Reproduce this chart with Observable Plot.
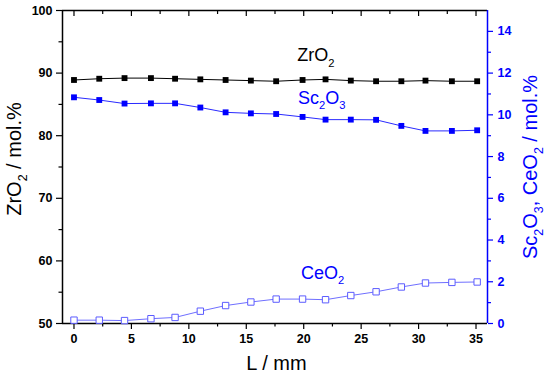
<!DOCTYPE html>
<html>
<head>
<meta charset="utf-8">
<script src="https://cdn.jsdelivr.net/npm/d3@7"></script>
<script src="https://cdn.jsdelivr.net/npm/@observablehq/plot@0.6"></script>
<style>
  html, body { margin: 0; padding: 0; background: white; }
  svg { display: block; }
</style>
</head>
<body>
<div id="chart"></div>
<script>
// ---- data ----
const L      = [0, 2.2, 4.4, 6.7, 8.8, 11.0, 13.2, 15.4, 17.6, 19.9, 21.9, 24.1, 26.3, 28.5, 30.6, 32.9, 35.1];
const zrO2   = [88.9, 89.1, 89.2, 89.2, 89.1, 89.0, 88.9, 88.8, 88.7, 88.9, 89.0, 88.8, 88.7, 88.7, 88.8, 88.7, 88.7];
const sc2O3  = [10.84, 10.71, 10.54, 10.55, 10.55, 10.35, 10.12, 10.07, 10.04, 9.90, 9.77, 9.77, 9.76, 9.47, 9.23, 9.23, 9.26];
const ceO2   = [0.16, 0.16, 0.14, 0.23, 0.29, 0.59, 0.86, 1.03, 1.17, 1.17, 1.14, 1.34, 1.52, 1.75, 1.94, 1.97, 1.99];

const xDomain = [-1, 36];
const yLeftDomain = [50, 100];
const yRightDomain = [0, 15];
const xTicks = [0, 5, 10, 15, 20, 25, 30, 35];
const xMinor = [2.5, 7.5, 12.5, 17.5, 22.5, 27.5, 32.5];
const yLeftTicks = [50, 60, 70, 80, 90, 100];
const yLeftMinor = [55, 65, 75, 85, 95];
const yRightTicks = [0, 2, 4, 6, 8, 10, 12, 14];
const yRightMinor = [1, 3, 5, 7, 9, 11, 13];

const xTitle = "L / mm";
const yLeftTitle = "ZrO_2 / mol.%";
const yRightTitle = "Sc_2O_3, CeO_2 / mol.%";

const seriesLabels = ["ZrO_2", "Sc_2O_3", "CeO_2"];
const seriesLabelX = [19.43, 19.5, 19.77];
const seriesLabelY = [91.9, 10.54, 2.13];       // ZrO2 on left axis, others on right axis
const seriesLabelAxis = ["left", "right", "right"];
const seriesColor = ["#000000", "#0000ff", "#0000ff"];

// right axis -> left axis units
const toLeft = r => yLeftDomain[0] + (r - yRightDomain[0]) * (yLeftDomain[1] - yLeftDomain[0]) / (yRightDomain[1] - yRightDomain[0]);
const fromLeft = v => yRightDomain[0] + (v - yLeftDomain[0]) * (yRightDomain[1] - yRightDomain[0]) / (yLeftDomain[1] - yLeftDomain[0]);

const rows = L.map((x, i) => ({x, zr: zrO2[i], sc: toLeft(sc2O3[i]), ce: toLeft(ceO2[i])}));
const labels = seriesLabels.map((t, i) => ({
  text: t, x: seriesLabelX[i],
  y: seriesLabelAxis[i] === "left" ? seriesLabelY[i] : toLeft(seriesLabelY[i]),
  color: seriesColor[i]
}));

const W = 550, H = 377, mL = 62, mR = 63, mT = 10, mB = 54;
const frameH = H - mT - mB;
const font = "'Liberation Sans', Arial, Helvetica, sans-serif";
const tickFs = 12.5;

const chart = Plot.plot({
  width: W, height: H,
  marginLeft: mL, marginRight: mR, marginTop: mT, marginBottom: mB,
  x: {domain: xDomain},
  y: {domain: yLeftDomain},
  style: {fontFamily: font, background: "white", color: "black"},
  marks: [
    // bottom axis
    Plot.axisX(xTicks, {anchor: "bottom", tickSize: 6, tickPadding: 5, fontWeight: "bold", fontSize: tickFs, label: null, strokeWidth: 1.2}),
    Plot.axisX(xMinor, {anchor: "bottom", tickSize: 3.5, tickFormat: () => "", label: null, strokeWidth: 1.2}),
    // top inward ticks
    Plot.ruleX(xTicks, {x: d => d, stroke: "black", strokeWidth: 1.2, insetBottom: frameH - 6}),
    Plot.ruleX(xMinor, {x: d => d, stroke: "black", strokeWidth: 1.2, insetBottom: frameH - 4}),
    // left axis
    Plot.axisY(yLeftTicks, {anchor: "left", tickSize: 6, tickPadding: 4, fontWeight: "bold", fontSize: tickFs, label: null, strokeWidth: 1.2}),
    Plot.axisY(yLeftMinor, {anchor: "left", tickSize: 3.5, tickFormat: () => "", label: null, strokeWidth: 1.2}),
    // right axis (blue)
    Plot.axisY(yRightTicks.map(toLeft), {anchor: "right", tickSize: 5, tickPadding: 5, color: "#0000ff", fontWeight: "bold", fontSize: tickFs, label: null, strokeWidth: 1.2, tickFormat: v => String(Math.round(fromLeft(v)))}),
    Plot.axisY(yRightMinor.map(toLeft), {anchor: "right", tickSize: 3, color: "#0000ff", tickFormat: () => "", label: null, strokeWidth: 1.2}),
    // frame
    Plot.ruleY([yLeftDomain[1]], {stroke: "black", strokeWidth: 1.5}),
    Plot.ruleY([yLeftDomain[0]], {stroke: "black", strokeWidth: 1.5}),
    Plot.ruleX([xDomain[0]], {stroke: "black", strokeWidth: 1.5}),
    Plot.ruleX([xDomain[1]], {stroke: "#0000ff", strokeWidth: 1.5}),
    // series
    Plot.line(rows, {x: "x", y: "zr", stroke: "#000000", strokeWidth: 1}),
    Plot.dot(rows, {x: "x", y: "zr", symbol: "square", fill: "#000000", r: 3.3}),
    Plot.line(rows, {x: "x", y: "sc", stroke: "#2a2aff", strokeWidth: 1}),
    Plot.dot(rows, {x: "x", y: "sc", symbol: "square", fill: "#0000ff", r: 3.3}),
    Plot.line(rows, {x: "x", y: "ce", stroke: "#6f6fff", strokeWidth: 1}),
    Plot.dot(rows, {x: "x", y: "ce", symbol: "square", fill: "white", stroke: "#5c5cff", strokeWidth: 1, r: 3.6}),
    // series labels
    Plot.text(labels, {x: "x", y: "y", text: "text", fill: "color", textAnchor: "start", lineAnchor: "bottom", fontSize: 18}),
    // axis titles
    Plot.text([xTitle], {text: d => d, frameAnchor: "bottom", textAnchor: "middle", dx: 1.5, dy: 46, lineAnchor: "bottom", fontSize: 20, fill: "black"}),
    Plot.text([yLeftTitle], {text: d => d, frameAnchor: "left", textAnchor: "middle", rotate: -90, dx: -42, dy: -8, lineAnchor: "bottom", fontSize: 20, fill: "black"}),
    Plot.text([yRightTitle], {text: d => d, frameAnchor: "right", textAnchor: "middle", rotate: -90, dx: 49, lineAnchor: "bottom", fontSize: 20, fill: "#0000ff"})
  ]
});

// subscripts: "_d" -> lowered, smaller digit
const ns = "http://www.w3.org/2000/svg";
chart.querySelectorAll("text").forEach(t => {
  const s = t.textContent;
  if (!s.includes("_")) return;
  const fs = parseFloat(t.getAttribute("font-size") || t.closest("[font-size]")?.getAttribute("font-size") || 18);
  t.textContent = "";
  const parts = s.split(/_(\d)/);
  let lowered = false;
  parts.forEach((p, i) => {
    if (!p) return;
    const ts = document.createElementNS(ns, "tspan");
    ts.textContent = p;
    if (i % 2 === 1) {
      ts.setAttribute("font-size", (fs * 0.62).toFixed(1));
      ts.setAttribute("dy", (fs * 0.3).toFixed(1));
      lowered = true;
    } else if (lowered) {
      ts.setAttribute("dy", (-fs * 0.3).toFixed(1));
      lowered = false;
    }
    t.appendChild(ts);
  });
});

document.getElementById("chart").appendChild(chart);
</script>
</body>
</html>
